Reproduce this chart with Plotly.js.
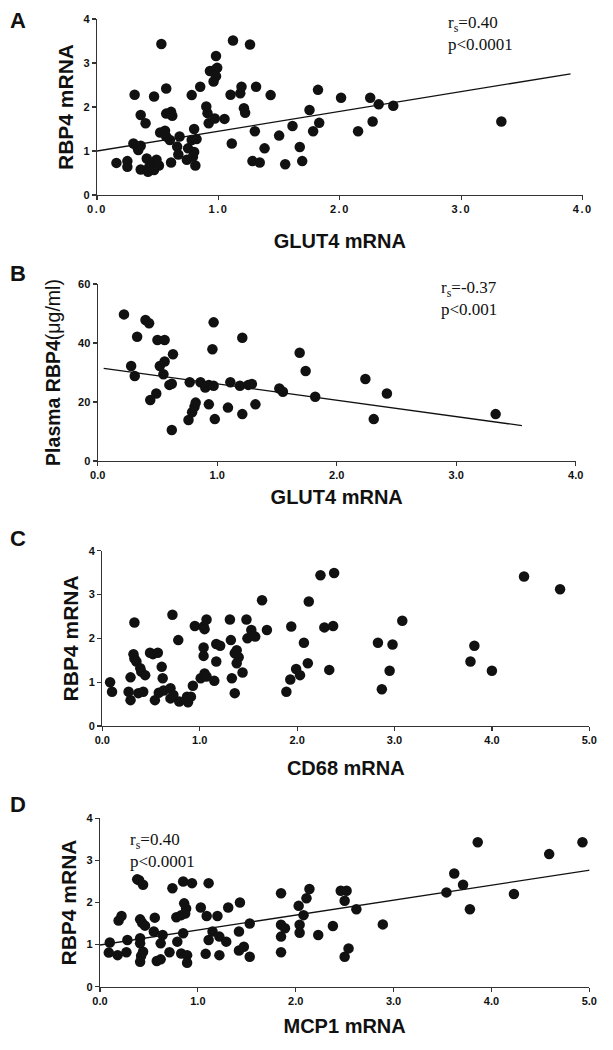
<!DOCTYPE html>
<html><head><meta charset="utf-8">
<script src="https://cdn.plot.ly/plotly-3.0.1.min.js"></script>
<style>html,body{margin:0;padding:0;background:#fff}#chart{width:613px;height:1050px}
.xtick text{letter-spacing:1.5px}</style>
</head><body><div id="chart"></div>
<script>
// Panel A: GLUT4 mRNA vs RBP4 mRNA
const glut4A = [0.16,0.25,0.25,0.31,0.30,0.33,0.36,0.34,0.36,0.40,0.36,0.41,0.43,0.46,0.42,0.47,0.49,0.51,0.47,0.53,0.57,0.52,0.56,0.57,0.61,0.62,0.57,0.60,0.61,0.68,0.66,0.67,0.74,0.75,0.78,0.80,0.78,0.82,0.79,0.80,0.81,0.85,0.90,0.91,0.92,0.97,1.05,0.93,0.97,0.99,0.98,0.96,0.98,1.10,1.12,1.11,1.18,1.19,1.21,1.22,1.26,1.31,1.30,1.28,1.34,1.38,1.43,1.50,1.55,1.61,1.67,1.69,1.75,1.78,1.82,1.83,2.01,2.15,2.25,2.27,2.32,2.44,3.33];
const rbp4A  = [0.73,0.77,0.64,2.28,1.17,1.10,1.12,1.02,1.82,1.63,0.58,0.83,0.64,0.73,0.53,0.57,0.80,0.67,2.24,3.43,2.42,1.42,1.46,1.85,1.89,1.80,1.33,1.25,0.74,1.33,1.10,0.92,0.80,1.06,2.27,1.50,1.25,1.27,0.87,0.98,0.67,2.46,2.01,1.86,1.63,1.74,1.73,2.82,2.84,2.89,3.16,2.58,2.70,2.28,3.51,1.17,2.31,2.46,1.97,1.87,3.42,2.46,1.45,0.77,0.74,1.06,2.27,1.35,0.70,1.57,1.09,0.77,1.93,1.45,2.39,1.64,2.21,1.45,2.21,1.67,2.06,2.03,1.67];
const fitA = {x0: 0, x1: 3.9, intercept: 1.0, slope: 0.45};

// Panel B: GLUT4 mRNA vs plasma RBP4
const glut4B = [0.22,0.28,0.31,0.33,0.40,0.43,0.44,0.49,0.50,0.56,0.52,0.56,0.55,0.63,0.60,0.62,0.62,0.77,0.76,0.79,0.81,0.82,0.86,0.90,0.93,0.97,0.93,0.97,0.96,0.98,1.09,1.11,1.19,1.21,1.21,1.26,1.29,1.32,1.52,1.55,1.69,1.74,1.82,2.24,2.42,2.31,3.33];
const plasmaB = [49.7,32.2,28.8,42.1,47.8,46.7,20.7,22.9,41.0,41.0,32.2,33.7,29.4,36.2,25.8,26.2,10.5,26.7,13.9,16.5,18.4,19.8,26.7,24.9,25.8,25.5,19.2,47.0,37.9,14.2,18.1,26.7,25.5,15.9,41.8,25.8,26.1,19.2,24.6,23.5,36.7,30.5,21.8,27.8,22.9,14.2,15.9];
const fitB = {x0: 0.05, x1: 3.55, intercept: 31.7, slope: -5.55};

// Panel C: CD68 mRNA vs RBP4 mRNA
const cd68C = [0.08,0.10,0.27,0.29,0.29,0.33,0.32,0.33,0.35,0.37,0.39,0.42,0.40,0.44,0.49,0.52,0.57,0.54,0.58,0.61,0.62,0.63,0.70,0.70,0.73,0.72,0.78,0.79,0.87,0.88,0.91,0.93,0.95,1.01,1.04,1.05,1.07,1.04,1.04,1.05,1.07,1.15,1.17,1.17,1.21,1.31,1.32,1.33,1.36,1.36,1.38,1.38,1.40,1.44,1.48,1.49,1.53,1.57,1.64,1.69,1.89,1.93,1.94,1.99,2.03,2.07,2.11,2.12,2.24,2.38,2.28,2.37,2.33,2.83,2.98,3.08,2.95,2.87,3.78,3.82,4.00,4.33,4.70];
const rbp4C = [1.00,0.78,0.78,0.59,1.11,2.36,1.64,1.54,1.47,0.75,1.32,0.78,1.24,1.16,1.67,1.64,1.67,0.59,0.76,1.35,1.09,0.81,0.86,0.63,0.71,2.54,1.96,0.56,0.67,0.54,0.67,0.92,2.28,1.09,2.27,2.21,2.43,1.79,1.60,1.20,1.13,1.03,1.47,1.87,1.83,2.43,1.96,1.09,0.75,1.66,1.73,1.43,1.57,1.22,2.43,2.00,2.19,2.04,2.87,2.19,0.78,1.06,2.27,1.30,1.16,1.90,1.43,2.84,3.44,3.49,2.25,2.28,1.28,1.90,1.86,2.40,1.26,0.84,1.47,1.83,1.26,3.41,3.12];

// Panel D: MCP1 mRNA vs RBP4 mRNA
const mcp1D = [0.10,0.09,0.18,0.19,0.22,0.28,0.27,0.38,0.40,0.44,0.41,0.43,0.46,0.41,0.41,0.44,0.42,0.41,0.56,0.55,0.58,0.62,0.64,0.62,0.71,0.74,0.78,0.79,0.83,0.85,0.86,0.88,0.87,0.85,0.83,0.89,0.89,0.94,1.03,1.09,1.11,1.11,1.08,1.15,1.20,1.22,1.22,1.29,1.31,1.42,1.43,1.42,1.47,1.53,1.53,1.85,1.85,1.89,1.85,1.85,2.03,2.04,2.04,2.08,2.11,2.14,2.23,2.38,2.46,2.52,2.50,2.62,2.54,2.50,2.89,3.54,3.62,3.71,3.78,3.86,4.23,4.59,4.93];
const rbp4D = [1.05,0.81,0.75,1.57,1.68,1.11,0.82,2.55,2.53,2.42,1.60,1.52,1.45,1.15,1.03,0.83,0.73,0.59,1.64,1.31,0.61,0.65,1.23,1.03,0.82,2.34,1.65,1.07,1.70,2.50,1.98,1.86,1.74,1.27,0.79,0.75,0.57,2.46,1.88,1.68,2.46,1.11,0.78,1.31,1.68,1.19,0.75,1.07,1.88,1.31,2.00,0.86,0.95,0.71,1.50,2.22,1.47,1.39,1.19,0.82,1.92,1.47,1.28,1.70,2.10,2.32,1.23,1.44,2.28,2.28,2.04,1.84,0.91,0.71,1.48,2.24,2.69,2.42,1.84,3.43,2.20,3.15,3.43];
const fitD = {x0: 0, x1: 5.13, intercept: 0.99, slope: 0.355};

const panelLetters = ['A','B','C','D'];
const xTitles = ['GLUT4 mRNA','GLUT4 mRNA','CD68 mRNA','MCP1 mRNA'];
const yTitles = ['RBP4 mRNA','Plasma RBP4<span style="font-weight:normal">(μg/ml)</span>','RBP4 mRNA','RBP4 mRNA'];
const statsA = ['r<sub>s</sub>=0.40','p<0.0001'];
const statsB = ['r<sub>s</sub>=-0.37','p<0.001'];
const statsD = ['r<sub>s</sub>=0.40','p<0.0001'];

const W = 613, H = 1050;
const sans = 'Liberation Sans, Arial, sans-serif';
const serif = 'Liberation Serif, Times New Roman, serif';

function pts(x, y, n) {
  return {x: x, y: y, type: 'scatter', mode: 'markers', xaxis: 'x' + (n===1?'':n), yaxis: 'y' + (n===1?'':n),
    marker: {size: 10.5, color: '#111'}, cliponaxis: false, hoverinfo: 'x+y'};
}
function fit(f, n) {
  return {x: [f.x0, f.x1], y: [f.intercept + f.slope*f.x0, f.intercept + f.slope*f.x1], type: 'scatter', mode: 'lines',
    xaxis: 'x' + (n===1?'':n), yaxis: 'y' + (n===1?'':n), line: {color: '#111', width: 1.3}, cliponaxis: false};
}

const data = [
  pts(glut4A, rbp4A, 1), fit(fitA, 1),
  pts(glut4B, plasmaB, 2), fit(fitB, 2),
  pts(cd68C, rbp4C, 3),
  pts(mcp1D, rbp4D, 4), fit(fitD, 4)
];

// plot boxes in pixels: [left, right, top, bottom]
const boxes = [[97,582.7,19,195],[97.7,575.7,284,461],[102.3,589.3,550.7,726],[100,589.3,818.3,986.7]];
const xRanges = [[0,4],[0,4],[0,5],[0,5]];
const yRanges = [[0,4],[0,60],[0,4],[0,4]];
const yDticks = [1,20,1,1];
const xStand = [19,9,15,13];
const yStand = [4,12,4,4];

const layout = {width: W, height: H, margin: {l:0,r:0,t:0,b:0}, showlegend: false,
  paper_bgcolor: '#fff', plot_bgcolor: '#fff', annotations: []};

for (let i = 0; i < 4; i++) {
  const b = boxes[i];
  const sfx = i===0 ? '' : String(i+1);
  const common = {showgrid: false, zeroline: false, showline: true, linecolor: '#333', linewidth: 1.2,
    ticks: 'outside', ticklen: 4, tickcolor: '#333', tickwidth: 1.2, fixedrange: true,
    tickfont: {family: sans, size: 11, color: '#111', weight: 'bold'}};
  layout['xaxis' + sfx] = Object.assign({}, common, {domain: [b[0]/W, b[1]/W], range: xRanges[i], dtick: 1,
    tickformat: '.1f', anchor: 'y' + sfx,
    title: {text: '<b>' + xTitles[i] + '</b>', font: {family: sans, size: 20, color: '#111'}, standoff: xStand[i]}});
  layout['yaxis' + sfx] = Object.assign({}, common, {domain: [1 - b[3]/H, 1 - b[2]/H], range: yRanges[i], dtick: yDticks[i],
    anchor: 'x' + sfx,
    title: {text: '<b>' + yTitles[i] + '</b>', font: {family: sans, size: i===1 ? 19.5 : 21, color: '#111'}, standoff: yStand[i]}});
}

const letterY = [20.5, 273.5, 538.5, 804.5];
panelLetters.forEach((L, i) => {
  layout.annotations.push({text: '<b>' + L + '</b>', xref: 'paper', yref: 'paper', x: 8/W, y: 1 - letterY[i]/H,
    xanchor: 'left', yanchor: 'middle', showarrow: false, font: {family: sans, size: 22, color: '#111'}});
});
function stats(lines, xpx, ypx) {
  layout.annotations.push({text: lines.join('<br>'), xref: 'paper', yref: 'paper', x: xpx/W, y: 1 - ypx/H,
    xanchor: 'left', yanchor: 'top', align: 'left', showarrow: false, font: {family: serif, size: 17, color: '#111'}});
}
stats(statsA, 446, 11);
stats(statsB, 439, 276);
stats(statsD, 128, 828);

Plotly.newPlot('chart', data, layout, {displayModeBar: false, staticPlot: true});
</script></body></html>
